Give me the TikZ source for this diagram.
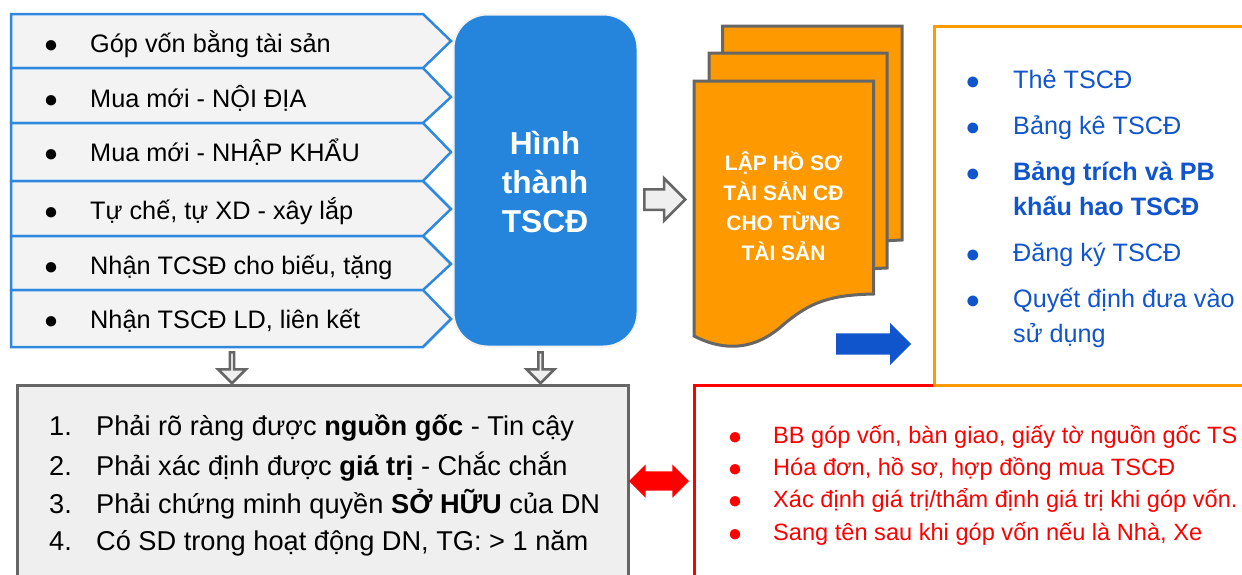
\documentclass[tikz,border=0pt]{standalone}
\usepackage{fontspec}
\setmainfont{Liberation Sans}
\usepackage{tikz}
\usetikzlibrary{shapes.arrows,positioning}
\definecolor{rowblue}{HTML}{2E88DE}
\definecolor{mainblue}{HTML}{2585DC}
\definecolor{rowgray}{HTML}{F3F3F3}
\definecolor{boxgray}{HTML}{EFEFEF}
\definecolor{edgegray}{HTML}{666666}
\definecolor{sheetorange}{HTML}{FF9900}
\definecolor{listblue}{HTML}{1155CC}
\tikzstyle{rowbox} = [draw=rowblue, fill=rowgray, line width=2.5pt, line join=miter]
\tikzstyle{sheet} = [draw=edgegray, fill=sheetorange, line width=3pt, line join=miter]
\tikzstyle{rowtext} = [anchor=base west, inner sep=0pt, font=\fontsize{25.3}{28}\selectfont]
\tikzstyle{rowdot} = [anchor=base, inner sep=0pt, yshift=-1.4pt, font=\fontsize{24}{28}\selectfont]
\tikzstyle{listtext} = [rowtext, text=listblue, font=\fontsize{25.2}{30}\selectfont]
\tikzstyle{listdot} = [rowdot, text=listblue, yshift=-0.4pt, font=\fontsize{25}{30}\selectfont]
\tikzstyle{numtext} = [rowtext, font=\fontsize{27.2}{30}\selectfont]
\tikzstyle{redtext} = [rowtext, text=red, font=\fontsize{23.6}{28}\selectfont]
\tikzstyle{reddot} = [rowdot, text=red]
\tikzstyle{sheettext} = [inner sep=0pt, align=center, text=white, font=\fontsize{21}{30}\selectfont\bfseries]
\tikzstyle{grayarrow} = [single arrow, draw=edgegray, fill=boxgray, line width=2.5pt, inner sep=0pt,
    minimum size=0pt, single arrow tip angle=90, single arrow head indent=0pt]
\begin{document}
\begin{tikzpicture}[x=1pt, y=-1pt]
    \useasboundingbox (0,0) rectangle (1242,574);
    % Source rows
    \draw [rowbox] (11,14) -- (423,14) -- (451,41) -- (423,68) -- (11,68) -- cycle;
    \draw [rowbox] (11,68) -- (423,68) -- (451,97) -- (423,123) -- (11,123) -- cycle;
    \draw [rowbox] (11,123) -- (423,123) -- (451,152) -- (423,181) -- (11,181) -- cycle;
    \draw [rowbox] (11,181) -- (423,181) -- (451,209) -- (423,236) -- (11,236) -- cycle;
    \draw [rowbox] (11,236) -- (423,236) -- (451,264) -- (423,290) -- (11,290) -- cycle;
    \draw [rowbox] (11,290) -- (423,290) -- (451,319) -- (423,347) -- (11,347) -- cycle;
    \node [rowdot] (d1) at (51,51) {●};
    \node [rowdot] (d2) at (51,106) {●};
    \node [rowdot] (d3) at (51,160) {●};
    \node [rowdot] (d4) at (51,218) {●};
    \node [rowdot] (d5) at (51,273) {●};
    \node [rowdot] (d6) at (51,327) {●};
    \node [rowtext] (r1) at (90,52) {Góp vốn bằng tài sản};
    \node [rowtext] (r2) at (90,107) {Mua mới - NỘI ĐỊA};
    \node [rowtext] (r3) at (90,161) {Mua mới - NHẬP KHẨU};
    \node [rowtext] (r4) at (90,219) {Tự chế, tự XD - xây lắp};
    \node [rowtext] (r5) at (90,274) {Nhận TCSĐ cho biếu, tặng};
    \node [rowtext] (r6) at (90,328) {Nhận TSCĐ LD, liên kết};
    % Main block
    \node [draw=rowgray, fill=mainblue, line width=2pt, rounded corners=34pt, minimum width=184pt,
        minimum height=332pt] (main) at (545.5,180.5) {};
    \node [align=center, inner sep=0pt, text=white, font=\fontsize{31.7}{39}\selectfont\bfseries]
        (mainlabel) at (545,182.5) {Hình\\thành\\TSCĐ};
    % Gray arrows
    \node [grayarrow, shape border rotate=270, minimum height=31pt, minimum width=28pt,
        single arrow head extend=7pt, inner ysep=7pt, anchor=tail] (a1) at (232,351) {};
    \node [grayarrow, shape border rotate=270, minimum height=31pt, minimum width=28pt,
        single arrow head extend=7pt, inner ysep=7pt, anchor=tail] (a2) at (540.5,351) {};
    \node [grayarrow, minimum height=41pt, minimum width=41pt,
        single arrow head extend=11pt, inner ysep=9pt, anchor=tail] (a3) at (643,199.5) {};
    % Record sheets
    \draw [sheet] (722.5,26) -- (902,26) -- (902,240) -- (880,241) -- (722.5,241) -- cycle;
    \draw [sheet] (709,53) -- (887,53) -- (887,268) -- (865,269) -- (709,269) -- cycle;
    \draw [sheet] (694,81) -- (873.5,81) -- (873.5,294)
        .. controls (830,295) and (810,302) .. (783,325)
        .. controls (755,350) and (725,352) .. (694,336) -- cycle;
    \node [sheettext] (doc) at (783.5,206.5) {LẬP HỒ SƠ\\TÀI SẢN CĐ\\CHO TỪNG\\TÀI SẢN};
    % Lists
    \draw [draw=red, line width=3pt] (694,600) -- (694,385) -- (1260,385);
    \draw [draw=sheetorange, line width=3pt] (1260,26) -- (934,26) -- (934,385) -- (1260,385);
    \node [single arrow, fill=listblue, inner sep=0pt, minimum size=0pt, minimum height=75pt, minimum width=42pt,
        single arrow tip angle=90, single arrow head indent=0pt, single arrow head extend=10.5pt,
        inner ysep=10.5pt, anchor=tail] (a4) at (836,344) {};
    \node [listdot] (b1) at (973,88) {●};
    \node [listdot] (b2) at (973,134) {●};
    \node [listdot] (b3) at (973,180) {●};
    \node [listdot] (b4) at (973,261) {●};
    \node [listdot] (b5) at (973,307) {●};
    \node [listtext] (t1) at (1013,88) {Thẻ TSCĐ};
    \node [listtext] (t2) at (1013,134) {Bảng kê TSCĐ};
    \node [listtext] (t3) at (1013,180) {\bfseries Bảng trích và PB};
    \node [listtext] (t4) at (1013,215) {\bfseries khấu hao TSCĐ};
    \node [listtext] (t5) at (1013,261) {Đăng ký TSCĐ};
    \node [listtext] (t6) at (1013,307) {Quyết định đưa vào};
    \node [listtext] (t7) at (1013,342) {sử dụng};
    % Conditions
    \draw [draw=edgegray, fill=boxgray, line width=3pt] (17,600) -- (17,385) -- (628,385) -- (628,600);
    \node [numtext] (n1) at (49,435) {1.};
    \node [numtext] (n2) at (49,475) {2.};
    \node [numtext] (n3) at (49,513) {3.};
    \node [numtext] (n4) at (49,550) {4.};
    \node [numtext] (c1) at (96,435) {Phải rõ ràng được \textbf{nguồn gốc} - Tin cậy};
    \node [numtext] (c2) at (96,475) {Phải xác định được \textbf{giá trị} - Chắc chắn};
    \node [numtext] (c3) at (96,513) {Phải chứng minh quyền \textbf{SỞ HỮU} của DN};
    \node [numtext] (c4) at (96,550) {Có SD trong hoạt động DN, TG: > 1 năm};
    \node [double arrow, fill=red, inner sep=0pt, minimum size=0pt, minimum height=60pt, minimum width=33pt,
        double arrow tip angle=90, double arrow head indent=0pt, double arrow head extend=7pt,
        inner ysep=9.5pt] (a5) at (659,481) {};
    \node [reddot] (e1) at (735,443) {●};
    \node [reddot] (e2) at (735,475) {●};
    \node [reddot] (e3) at (735,507) {●};
    \node [reddot] (e4) at (735,540) {●};
    \node [redtext] (s1) at (773,443) {BB góp vốn, bàn giao, giấy tờ nguồn gốc TS};
    \node [redtext] (s2) at (773,475) {Hóa đơn, hồ sơ, hợp đồng mua TSCĐ};
    \node [redtext] (s3) at (773,507) {Xác định giá trị/thẩm định giá trị khi góp vốn.};
    \node [redtext] (s4) at (773,540) {Sang tên sau khi góp vốn nếu là Nhà, Xe};
\end{tikzpicture}
\end{document}
